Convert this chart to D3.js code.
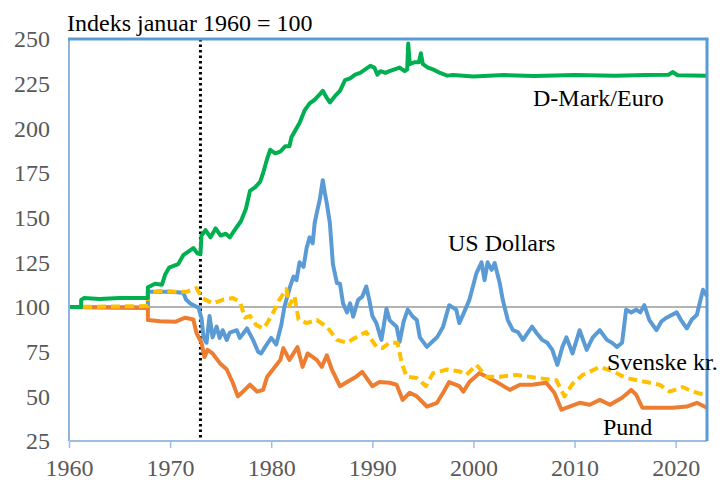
<!DOCTYPE html>
<html>
<head>
<meta charset="utf-8">
<script src="https://cdn.jsdelivr.net/npm/d3@7"></script>
<style>
  body { margin: 0; background: #fff; }
</style>
</head>
<body>
<div id="chart"></div>
<script>
// Exchange rates against NOK, index January 1960 = 100  [year, index]
const dmEuro = [
  [1960, 100], [1961.2, 100], [1961.2, 104], [1961.5, 105], [1963, 104.5], [1965, 105], [1967.8, 105],
  [1967.8, 111], [1968.5, 113], [1969.2, 112.5], [1969.5, 118], [1969.9, 122], [1970.8, 124], [1971.3, 129],
  [1971.8, 131], [1972.3, 133], [1972.7, 130], [1973.0, 129.5], [1973.1, 140], [1973.5, 143], [1974, 139],
  [1974.5, 144], [1975, 140], [1975.5, 141], [1975.9, 139], [1976.5, 144], [1977, 148], [1977.5, 155],
  [1977.9, 165], [1978.4, 167], [1978.9, 170], [1979.2, 175], [1979.6, 183], [1979.9, 188], [1980.4, 186],
  [1980.9, 187], [1981.4, 190], [1981.8, 190], [1982, 195], [1982.5, 200], [1982.8, 203], [1983.3, 210],
  [1983.8, 214], [1984.3, 216], [1984.8, 219], [1985.1, 221], [1985.5, 217], [1985.8, 214.5], [1986.3, 218],
  [1986.8, 221], [1987.3, 227], [1987.8, 228], [1988.3, 230], [1988.8, 231], [1989.3, 233], [1989.8, 235],
  [1990.2, 234], [1990.5, 230], [1990.8, 232], [1991.3, 231], [1991.7, 232], [1992.2, 233], [1992.7, 234],
  [1993.2, 232], [1993.45, 233], [1993.55, 247.5], [1993.7, 236], [1994.2, 237], [1994.6, 237], [1994.8, 242],
  [1995, 236], [1995.5, 234], [1996, 233], [1996.7, 231], [1997.4, 229.5], [1998, 229.8], [2000, 229],
  [2003, 229.8], [2006, 229.3], [2010, 229.8], [2014, 229.5], [2017, 229.8], [2019.3, 230], [2019.7, 231.5],
  [2020.2, 229.7], [2023.1, 229.5]
];

const usDollar = [
  [1960, 100], [1967.8, 99.5], [1967.8, 108.5], [1969, 108.5], [1970, 108.5], [1971.3, 108], [1971.6, 104],
  [1972, 102], [1972.8, 99.6], [1973.1, 94], [1973.3, 83], [1973.6, 80], [1973.9, 95], [1974.2, 83],
  [1974.6, 89], [1974.9, 82.7], [1975.2, 87], [1975.6, 81.6], [1975.9, 85.6], [1976.6, 87], [1976.9, 82.7],
  [1977.6, 88], [1978.2, 81.6], [1978.7, 75], [1979, 74], [1979.4, 77.7], [1980, 82.7], [1980.5, 79],
  [1981, 90], [1981.3, 100], [1981.6, 106], [1981.9, 112], [1982.2, 117], [1982.5, 115], [1982.8, 125],
  [1983.2, 122.5], [1983.5, 133], [1983.8, 139], [1984.1, 135.7], [1984.3, 147], [1984.5, 152.5],
  [1984.8, 160], [1985.1, 171], [1985.3, 164], [1985.5, 158], [1985.8, 147], [1986.1, 124], [1986.5, 113.4],
  [1986.8, 113], [1987.1, 102], [1987.5, 97], [1987.8, 102], [1988.1, 94.6], [1988.6, 104], [1989, 105.8],
  [1989.4, 111.5], [1989.7, 104], [1990, 95], [1990.4, 91], [1990.9, 81.6], [1991.4, 99], [1991.7, 92.7],
  [1992, 91], [1992.4, 89], [1992.7, 80.5], [1993.1, 92], [1993.5, 98.5], [1994, 94.6], [1994.4, 92.7],
  [1994.7, 83], [1995.4, 77.7], [1996, 81], [1996.4, 83], [1997, 89], [1997.6, 101], [1998.3, 98.5],
  [1998.6, 91], [1999, 96], [1999.6, 104], [2000.3, 119], [2000.8, 125], [2001.1, 115], [2001.4, 125],
  [2001.8, 120.8], [2002.1, 124.6], [2002.6, 113.4], [2002.9, 104], [2003.4, 92.7], [2003.9, 87],
  [2004.4, 86], [2004.9, 81.6], [2005.3, 85], [2005.8, 89], [2006.3, 85], [2006.8, 81.6], [2007.3, 80],
  [2007.8, 76], [2008.3, 67.6], [2008.8, 77.7], [2009.2, 83], [2009.8, 74], [2010.5, 87], [2011.2, 76],
  [2011.8, 83], [2012.5, 87], [2013.2, 81.6], [2013.7, 80], [2014.2, 77.7], [2014.7, 80], [2015.1, 98.5],
  [2015.6, 97], [2016.1, 98.5], [2016.5, 97], [2016.9, 101], [2017.4, 92.7], [2018.1, 87], [2018.6, 92],
  [2019.1, 94], [2020.1, 97], [2020.5, 93], [2021.1, 88], [2021.6, 93], [2022.1, 95.7], [2022.7, 109.7],
  [2023.1, 106]
];

const pund = [
  [1960, 100], [1967.8, 99.7], [1967.8, 92.7], [1969, 92], [1970.5, 91.7], [1971.5, 94], [1972.3, 93],
  [1972.6, 85.6], [1973.1, 80], [1973.4, 72], [1973.7, 76], [1974.2, 74], [1974.9, 68.7], [1975.6, 65],
  [1976.2, 57.6], [1976.7, 50], [1977.2, 52.6], [1977.9, 56.5], [1978.6, 52.6], [1979.2, 53.6], [1979.6, 61],
  [1980.3, 66], [1980.9, 70.4], [1981.2, 77], [1981.8, 70.4], [1982.6, 77.5], [1983.1, 66.5], [1983.6, 74],
  [1984.5, 70.4], [1985, 66.5], [1985.5, 73], [1986, 65], [1986.8, 55.7], [1987.5, 58], [1988.4, 61],
  [1989, 63.7], [1990, 55.7], [1990.7, 58], [1991.7, 57.6], [1992.4, 56.5], [1993, 48], [1993.7, 52],
  [1994.4, 50], [1995.4, 44.3], [1996.4, 46.4], [1997, 52], [1997.6, 58], [1998.6, 55.7], [1999, 52.6],
  [1999.6, 58], [2000.6, 63], [2001.3, 61], [2002.3, 58], [2003.6, 53.6], [2004.6, 56.5], [2005.8, 56.5],
  [2007.2, 57.6], [2008, 52], [2008.7, 42.5], [2009.5, 44.3], [2010.5, 46.4], [2011.5, 45.3], [2012.5, 48],
  [2013.5, 45.3], [2014.7, 49.2], [2015.6, 53.6], [2016.1, 50.9], [2016.7, 43.6], [2018.1, 43.6],
  [2019.7, 43.6], [2021.1, 44.3], [2022.1, 46.4], [2023.1, 43.6]
];

const svenskeKr = [
  [1960, 100], [1967.8, 100.5], [1967.8, 108], [1969, 109], [1970.5, 108.5], [1971.6, 108.5], [1972.6, 110.6],
  [1973.2, 105], [1974.2, 102], [1975.2, 104], [1976.2, 105], [1976.9, 103], [1977.4, 94], [1977.9, 95],
  [1978.5, 90], [1979.2, 88], [1979.6, 91], [1980.2, 97], [1980.8, 104], [1981.5, 110], [1981.8, 101],
  [1982.3, 106], [1982.7, 93], [1983.5, 91], [1984.5, 92.7], [1985.5, 89], [1986.5, 81.6], [1987.5, 80],
  [1988.8, 84.4], [1989.4, 86], [1990.4, 77.7], [1991, 77], [1991.7, 80], [1992.5, 80], [1992.9, 68.7],
  [1993.4, 61], [1994.4, 60.3], [1995.3, 55.7], [1996, 63], [1997.4, 65], [1998.6, 64], [1999.3, 62],
  [2000.3, 67.6], [2001.3, 61], [2002.6, 61], [2004.3, 62], [2006.3, 60.3], [2008.2, 59], [2009, 50],
  [2009.8, 57], [2010.8, 62], [2011.2, 63], [2012.5, 66.5], [2013.8, 64], [2015.1, 60.3], [2017.1, 58],
  [2018.4, 56.5], [2019.4, 52.6], [2020.7, 55.2], [2021.7, 52.6], [2023.1, 50.5]
];

const yTicks = [25, 50, 75, 100, 125, 150, 175, 200, 225, 250];
const xTicks = [1960, 1970, 1980, 1990, 2000, 2010, 2020];
const breakYear = 1973; // end of Bretton Woods, dotted marker

const serif = '"Liberation Serif", "DejaVu Serif", serif';
const width = 720, height = 480;
const margin = { top: 39, right: 13, bottom: 39, left: 69 };

const svg = d3.select('#chart').append('svg')
  .attr('width', width)
  .attr('height', height);

const x = d3.scaleLinear()
  .domain([1960, 2023.1])
  .range([margin.left, width - margin.right]);

const y = d3.scaleLinear()
  .domain([25, 250])
  .range([height - margin.bottom, margin.top]);

// y tick labels (no tick marks)
svg.append('g')
  .selectAll('text')
  .data(yTicks)
  .enter()
  .append('text')
  .attr('x', 50)
  .attr('y', d => y(d))
  .attr('dy', '0.35em')
  .attr('text-anchor', 'end')
  .attr('font-family', serif)
  .attr('font-size', 24)
  .attr('fill', '#595959')
  .text(d => d);

// x axis
const xAxis = svg.append('g')
  .attr('transform', `translate(0,${y(25)})`)
  .call(d3.axisBottom(x).tickValues(xTicks).tickFormat(d3.format('d')).tickSize(7).tickPadding(11));
xAxis.attr('font-family', serif).attr('font-size', 24);
xAxis.select('.domain').remove();
xAxis.selectAll('line').attr('stroke', '#9fbde0').attr('stroke-width', 1.5);
xAxis.selectAll('text').attr('fill', '#595959');

// reference line at 100
svg.append('line')
  .attr('x1', x(1960)).attr('x2', x(2023.1))
  .attr('y1', y(100)).attr('y2', y(100))
  .attr('stroke', '#9a9a9a')
  .attr('stroke-width', 1.5);

// dotted vertical marker
svg.append('line')
  .attr('x1', x(breakYear)).attr('x2', x(breakYear))
  .attr('y1', y(250)).attr('y2', y(25))
  .attr('stroke', '#000')
  .attr('stroke-width', 3)
  .attr('stroke-dasharray', '2.5,3');

const line = d3.line()
  .x(d => x(d[0]))
  .y(d => y(d[1]));

const series = [
  { data: usDollar, color: '#5b9bd5', dash: null },
  { data: pund, color: '#ed7d31', dash: null },
  { data: svenskeKr, color: '#ffc000', dash: '9,5' },
  { data: dmEuro, color: '#00b050', dash: null }
];

svg.append('g')
  .selectAll('path')
  .data(series)
  .enter()
  .append('path')
  .attr('d', d => line(d.data))
  .attr('fill', 'none')
  .attr('stroke', d => d.color)
  .attr('stroke-width', 4)
  .attr('stroke-linejoin', 'round')
  .attr('stroke-dasharray', d => d.dash);

// plot frame
const frame = svg.append('g');
frame.append('line')
  .attr('x1', x(1960)).attr('x2', x(1960)).attr('y1', y(250)).attr('y2', y(25))
  .attr('stroke', '#8fb3df').attr('stroke-width', 2);
frame.append('line')
  .attr('x1', x(1960)).attr('x2', x(2023.1)).attr('y1', y(25)).attr('y2', y(25))
  .attr('stroke', '#9fbde0').attr('stroke-width', 2);
frame.append('line')
  .attr('x1', x(1960) - 1).attr('x2', x(2023.1) + 1.5).attr('y1', y(250)).attr('y2', y(250))
  .attr('stroke', '#5b9bd5').attr('stroke-width', 3);
frame.append('line')
  .attr('x1', x(2023.1)).attr('x2', x(2023.1)).attr('y1', y(250)).attr('y2', y(25))
  .attr('stroke', '#5b9bd5').attr('stroke-width', 3);

// title and series labels
svg.append('text')
  .attr('x', 67)
  .attr('y', 31)
  .attr('font-family', serif)
  .attr('font-size', 24)
  .attr('fill', '#000')
  .text('Indeks januar 1960 = 100');

const labels = [
  { text: 'D-Mark/Euro', x: 533, y: 106 },
  { text: 'US Dollars', x: 448, y: 251 },
  { text: 'Svenske kr.', x: 607, y: 370 },
  { text: 'Pund', x: 603, y: 435 }
];

svg.append('g')
  .selectAll('text')
  .data(labels)
  .enter()
  .append('text')
  .attr('x', d => d.x)
  .attr('y', d => d.y)
  .attr('font-family', serif)
  .attr('font-size', 24)
  .attr('fill', '#000')
  .text(d => d.text);
</script>
</body>
</html>
